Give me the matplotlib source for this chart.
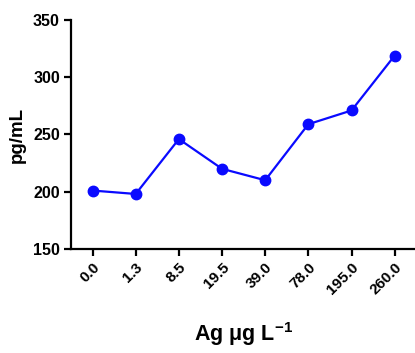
import matplotlib
matplotlib.use("Agg")
import matplotlib.pyplot as plt

conc_labels = ["0.0", "1.3", "8.5", "19.5", "39.0", "78.0", "195.0", "260.0"]
values = [201, 198, 246, 220, 210, 259, 271, 319]

plt.rcParams["font.family"] = ["Liberation Sans", "DejaVu Sans"]
plt.rcParams["font.weight"] = "bold"
plt.rcParams["mathtext.fontset"] = "custom"
plt.rcParams["mathtext.rm"] = "Liberation Sans:bold"
plt.rcParams["mathtext.bf"] = "Liberation Sans:bold"
plt.rcParams["mathtext.default"] = "bf"

fig = plt.figure(figsize=(4.15, 3.53), dpi=100)
ax = fig.add_axes([0.171, 0.295, 0.832, 0.648])

x = list(range(len(values)))
ax.plot(x, values, "o-", color="#0a0aff", lw=1.6, markersize=7.5)

ax.set_xlim(-0.5, 7.5)
ax.set_ylim(150, 350)
ax.set_yticks([150, 200, 250, 300, 350])
ax.set_xticks(x)
ax.set_xticklabels(conc_labels, rotation=45, ha="right", rotation_mode="anchor")

for s in ["top", "right"]:
    ax.spines[s].set_visible(False)
for s in ["left", "bottom"]:
    ax.spines[s].set_linewidth(1.6)
ax.tick_params(width=1.6, length=5)
ax.tick_params(axis="y", labelsize=11.5, pad=3)
ax.tick_params(axis="x", labelsize=11, pad=3)
for lbl in ax.get_xticklabels() + ax.get_yticklabels():
    lbl.set_fontweight("bold")

ax.set_ylabel("pg/mL", fontsize=13.5, fontweight="bold", labelpad=5)
ax.set_xlabel("Ag μg L$^{-1}$", fontsize=15.5, fontweight="bold", labelpad=17)

fig.savefig("out.png", dpi=100)
